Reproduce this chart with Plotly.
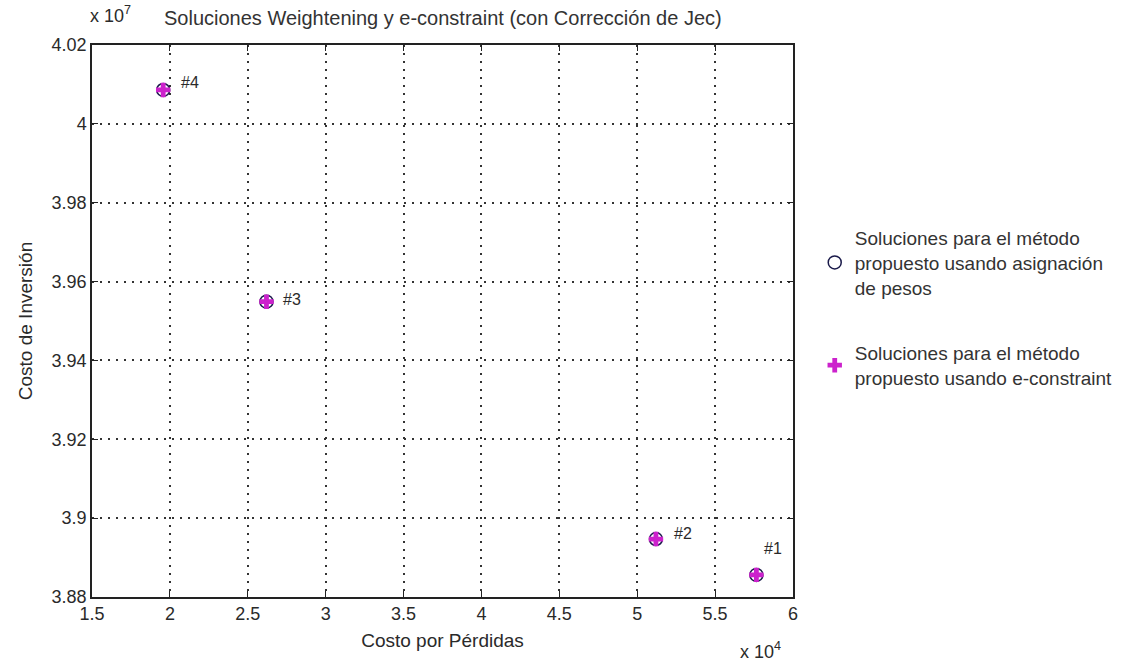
import plotly.graph_objects as go

# Data (x in units of 1e4, y in units of 1e7)
costo_perdidas = [5.765, 5.12, 2.62, 1.957]
costo_inversion = [3.8856, 3.8947, 3.9549, 4.0086]
etiquetas = ["#1", "#2", "#3", "#4"]
nombre_pesos = "Soluciones para el método<br>propuesto usando asignación<br>de pesos"
nombre_econs = "Soluciones para el método<br>propuesto usando e-constraint"
x_ticks = [1.5, 2, 2.5, 3, 3.5, 4, 4.5, 5, 5.5, 6]
x_ticklabels = ["1.5", "2", "2.5", "3", "3.5", "4", "4.5", "5", "5.5", "6"]
y_ticks = [3.88, 3.90, 3.92, 3.94, 3.96, 3.98, 4.00, 4.02]
y_ticklabels = ["3.88", "3.9", "3.92", "3.94", "3.96", "3.98", "4", "4.02"]

FONT = "Liberation Sans, Arial, sans-serif"
TXT = "#2a2a2a"

fig = go.Figure()
fig.add_trace(go.Scatter(
    x=costo_perdidas, y=costo_inversion, mode="markers", name=nombre_pesos,
    legendgroup="pesos",
    marker=dict(symbol="circle-open", size=13, color="#1a1a4a", line=dict(width=1.5)),
))
fig.add_trace(go.Scatter(
    x=costo_perdidas, y=costo_inversion, mode="markers", name=nombre_econs,
    legendgroup="econs",
    marker=dict(symbol="cross", size=12, color="#cc22cc", line=dict(width=0)),
))

offsets = [(17, 26), (27, 6), (26, 2), (27, 7)]
for xv, yv, lab, (dx, dy) in zip(costo_perdidas, costo_inversion, etiquetas, offsets):
    fig.add_annotation(x=xv, y=yv, text=lab, showarrow=False, xshift=dx, yshift=dy,
                       font=dict(family=FONT, size=16, color=TXT))

fig.add_annotation(xref="paper", yref="paper", x=0.5, y=1, yshift=27, yanchor="middle",
                   text="Soluciones Weightening y e-constraint (con Corrección de Jec)",
                   showarrow=False, font=dict(family=FONT, size=20, color="#333333"))
fig.add_annotation(xref="paper", yref="paper", x=0, y=1, xshift=-4, yshift=31, xanchor="left",
                   yanchor="middle", text="x 10<sup>7</sup>", showarrow=False,
                   font=dict(family=FONT, size=18, color=TXT))
fig.add_annotation(xref="paper", yref="paper", x=1, y=0, xshift=-33, yshift=-53, xanchor="center",
                   yanchor="middle", text="x 10<sup>4</sup>", showarrow=False,
                   font=dict(family=FONT, size=18, color=TXT))

axis_common = dict(
    showline=True, linecolor="#222222", linewidth=1.5, mirror="allticks",
    ticks="inside", ticklen=6, tickcolor="#222222",
    showgrid=True, gridcolor="#333333", griddash="2px,6px", gridwidth=1.5,
    zeroline=False, tickfont=dict(family=FONT, size=18, color=TXT),
)
fig.update_xaxes(range=[1.5, 6], tickvals=x_ticks, ticktext=x_ticklabels,
                 title=dict(text="Costo por Pérdidas", font=dict(family=FONT, size=19, color=TXT),
                            standoff=10), **axis_common)
fig.update_yaxes(range=[3.88, 4.02], tickvals=y_ticks, ticktext=y_ticklabels,
                 title=dict(text="Costo de Inversión", font=dict(family=FONT, size=19, color=TXT),
                            standoff=14), **axis_common)

fig.update_layout(
    width=1146, height=664, autosize=False,
    paper_bgcolor="white", plot_bgcolor="white",
    margin=dict(l=92, r=353, t=45, b=67),
    showlegend=True,
    legend=dict(x=1.031, y=0.685, xanchor="left", yanchor="top",
                font=dict(family=FONT, size=19, color="#333333"),
                bgcolor="rgba(0,0,0,0)", tracegroupgap=38, itemwidth=30),
)

fig.write_html("out.html", config={"displayModeBar": False},
               post_script="document.body.style.margin='0';")
